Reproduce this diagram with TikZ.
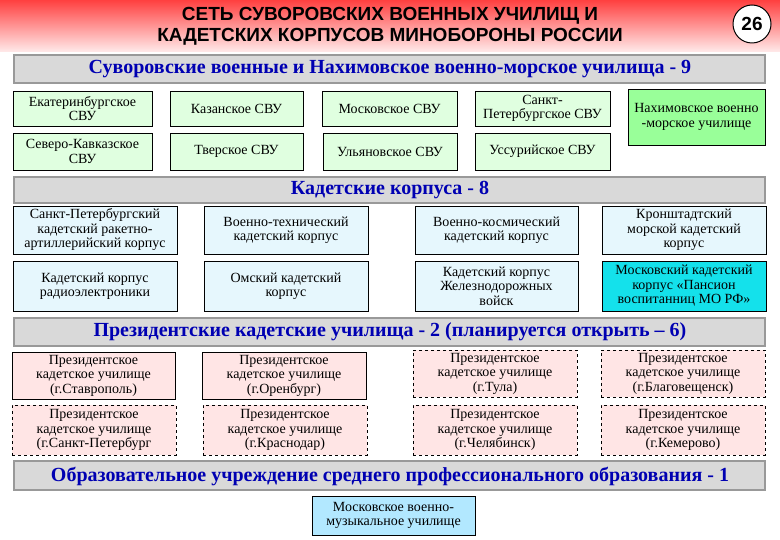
\documentclass[tikz,border=0pt]{standalone}
\usepackage{fontspec}
\setmainfont{Liberation Serif}
\newfontfamily\titlefont{Liberation Sans}
\definecolor{brightcyan}{RGB}{20,225,235}
\begin{document}
\begin{tikzpicture}[x=1pt,y=-1pt,
  bx/.style={draw=black,line width=0.7pt,align=center,font=\fontsize{14}{14.5}\selectfont,inner sep=0pt},
  gbox/.style={bx,fill=green!12!white},
  cbox/.style={bx,fill=cyan!10!white},
  pbox/.style={bx,fill=red!10!white},
  dbox/.style={pbox,dashed},
  bar/.style={draw=gray!80,line width=1.2pt,fill=gray!30},
  bart/.style={font=\fontsize{20}{22}\selectfont\bfseries,text=blue!70!black}]
\useasboundingbox (0,0) rectangle (780,540);
\shade[top color=red!75!white,bottom color=red!8!white] (0,0) rectangle (780,52);
\node[font=\titlefont\fontsize{19}{21}\selectfont\bfseries,align=center] (title) at (390,26) {СЕТЬ СУВОРОВСКИХ ВОЕННЫХ УЧИЛИЩ И\\КАДЕТСКИХ КОРПУСОВ МИНОБОРОНЫ РОССИИ};
\node[circle,draw,line width=1pt,fill=white,minimum size=38pt,inner sep=0pt,font=\titlefont\fontsize{19}{19}\selectfont\bfseries] (num) at (752,24) {26};
% bar1
\draw[bar] (14,55) rectangle (765,83);
\node[bart] (b1) at (390,69) {Суворовские военные и Нахимовское военно-морское училища - 9};
\newcommand\bxx[6]{\node[#1,minimum width=#4-#3,minimum height=#6-#5] (#2) at ({(#3+#4)/2},{(#5+#6)/2})}
\bxx{gbox}{s1}{13}{152}{91}{126}{Екатеринбургское\\СВУ};
\bxx{gbox}{s2}{170}{303}{91}{126}{Казанское СВУ};
\bxx{gbox}{s3}{322}{457}{91}{126}{Московское СВУ};
\bxx{gbox}{s4}{475}{610}{91}{126}{Санкт-\\Петербургское СВУ};
\bxx{bx,fill=green!40!white}{s5}{628}{765}{89}{145}{Нахимовское военно\\-морское училище};
\bxx{gbox}{s6}{13}{152}{133}{170}{Северо-Кавказское\\СВУ};
\bxx{gbox}{s7}{170}{303}{133}{170}{Тверское СВУ};
\bxx{gbox}{s8}{323}{457}{133}{170}{Ульяновское СВУ};
\bxx{gbox}{s9}{475}{610}{133}{170}{Уссурийское СВУ};
% bar2
\draw[bar] (14,177) rectangle (765,203);
\node[bart] (b2) at (390,190) {Кадетские корпуса - 8};
\bxx{cbox}{k1}{13}{177}{206}{254}{Санкт-Петербургский\\кадетский ракетно-\\артиллерийский корпус};
\bxx{cbox}{k2}{204}{368}{206}{254}{Военно-технический\\кадетский корпус};
\bxx{cbox}{k3}{415}{578}{206}{254}{Военно-космический\\кадетский корпус};
\bxx{cbox}{k4}{602}{766}{206}{254}{Кронштадтский\\морской кадетский\\корпус};
\bxx{cbox}{k5}{13}{177}{261}{311}{Кадетский корпус\\радиоэлектроники};
\bxx{cbox}{k6}{204}{368}{261}{311}{Омский кадетский\\корпус};
\bxx{cbox}{k7}{415}{578}{261}{311}{Кадетский корпус\\Железнодорожных\\войск};
\bxx{bx,fill=brightcyan}{k8}{602}{766}{261}{311}{Московский кадетский\\корпус «Пансион\\воспитанниц МО РФ»};
% bar3
\draw[bar] (14,318) rectangle (765,346);
\node[bart] (b3) at (390,332) {Президентские кадетские училища - 2 (планируется открыть – 6)};
\bxx{pbox}{p1}{12}{175}{352}{399}{Президентское\\кадетское училище\\(г.Ставрополь)};
\bxx{pbox}{p2}{202}{366}{352}{399}{Президентское\\кадетское училище\\(г.Оренбург)};
\bxx{dbox}{p3}{413}{577}{350}{397}{Президентское\\кадетское училище\\(г.Тула)};
\bxx{dbox}{p4}{601}{765}{350}{397}{Президентское\\кадетское училище\\(г.Благовещенск)};
\bxx{dbox}{p5}{12}{176}{405}{455}{Президентское\\кадетское училище\\(г.Санкт-Петербург};
\bxx{dbox}{p6}{203}{367}{405}{455}{Президентское\\кадетское училище\\(г.Краснодар)};
\bxx{dbox}{p7}{413}{577}{405}{455}{Президентское\\кадетское училище\\(г.Челябинск)};
\bxx{dbox}{p8}{601}{765}{405}{455}{Президентское\\кадетское училище\\(г.Кемерово)};
% bar4
\draw[bar] (14,461) rectangle (765,490);
\node[bart] (b4) at (390,476) {Образовательное учреждение среднего профессионального образования - 1};
\bxx{bx,fill=blue!30!cyan!30!white}{m1}{312}{475}{496}{535}{Московское военно-\\музыкальное училище};
\end{tikzpicture}
\end{document}
